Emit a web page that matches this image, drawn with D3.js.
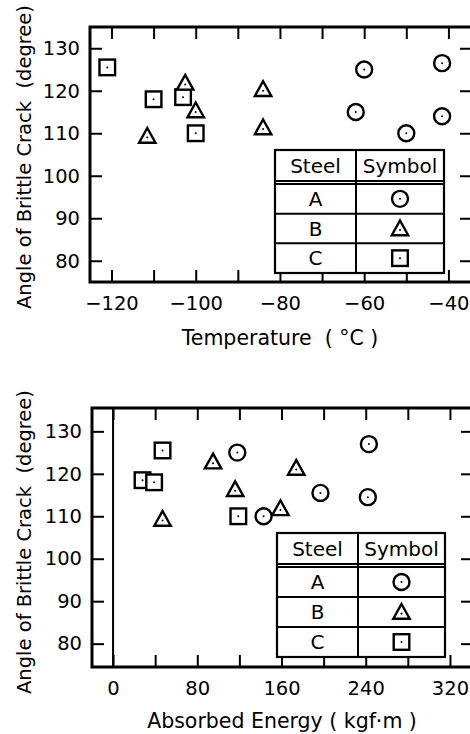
<!DOCTYPE html>
<html>
<head>
<meta charset="utf-8">
<script src="https://cdn.jsdelivr.net/npm/d3@7/dist/d3.min.js"></script>
<style>
  body { margin: 0; background: #fff; }
  text { font-family: "DejaVu Sans", sans-serif; fill: #000; }
</style>
</head>
<body>
<svg id="chart" width="470" height="734"></svg>
<script>
// ---- Angle of brittle crack vs test temperature ----
const tempA  = [-60, -62, -50, -41.5, -41.5];
const angleTA = [125, 115, 110, 126.5, 114];
const tempB  = [-111.5, -102.5, -100, -84, -84];
const angleTB = [109, 121.5, 115, 120, 111];
const tempC  = [-121, -110, -103, -100];
const angleTC = [125.5, 118, 118.5, 110];

// ---- Angle of brittle crack vs absorbed energy ----
const energyA = [118, 143, 197, 243, 242];
const angleEA = [125, 110, 115.5, 127, 114.5];
const energyB = [47, 95, 116, 159, 174];
const angleEB = [109, 122.5, 116, 111.5, 121];
const energyC = [28, 39, 47, 119];
const angleEC = [118.5, 118, 125.5, 110];

// ---- Axis ticks and labels ----
const tempTicks = [-120, -110, -100, -90, -80, -70, -60, -50, -40];
const tempLabels = { "-120": "\u2212120", "-100": "\u2212100", "-80": "\u221280", "-60": "\u221260", "-40": "\u221240" };
const energyTicks = [0, 40, 80, 120, 160, 200, 240, 280, 320];
const energyLabels = { "0": "0", "80": "80", "160": "160", "240": "240", "320": "320" };
const angleTicks = [80, 90, 100, 110, 120, 130];

// ---- Legend table ----
const steels = ["A", "B", "C"];
const steelShapes = ["circle", "triangle", "square"];
const legendHeader = ["Steel", "Symbol"];

const svg = d3.select("#chart");

function marker(g, shape, cx, cy) {
  const s = g.append("g").attr("transform", `translate(${cx},${cy})`);
  if (shape === "circle") {
    s.append("circle").attr("r", 8).attr("fill", "#fff").attr("stroke", "#000").attr("stroke-width", 2.4);
  } else if (shape === "square") {
    s.append("rect").attr("x", -7.8).attr("y", -7.8).attr("width", 15.6).attr("height", 15.6)
      .attr("fill", "#fff").attr("stroke", "#000").attr("stroke-width", 2.4);
  } else {
    s.append("path").attr("d", "M0,-9.5L8.2,5.2L-8.2,5.2Z")
      .attr("fill", "#fff").attr("stroke", "#000").attr("stroke-width", 2.4).attr("stroke-linejoin", "miter");
  }
  s.append("circle").attr("r", 1).attr("fill", "#000");
}

function panel(cfg) {
  const g = svg.append("g");
  const x = d3.scaleLinear().domain(cfg.xDomain).range([cfg.left, cfg.right]);
  const y = d3.scaleLinear().domain(cfg.yDomain).range([cfg.bottom, cfg.top]);

  const style = sel => {
    sel.select(".domain").remove();
    sel.selectAll(".tick line").attr("stroke", "#000").attr("stroke-width", 2);
    sel.selectAll(".tick text").style("font-size", "19.5px").attr("fill", "#000");
  };

  // labelled bottom and left axes, ticks pointing inward
  g.append("g").attr("transform", `translate(0,${cfg.bottom})`)
    .call(d3.axisBottom(x).tickValues(cfg.xTicks).tickSize(-12).tickPadding(14)
      .tickFormat(d => cfg.xLabels[String(d)] || ""))
    .call(style);
  g.append("g").attr("transform", `translate(${cfg.left},0)`)
    .call(d3.axisLeft(y).tickValues(angleTicks).tickSize(-12).tickPadding(10).tickFormat(d3.format("d")))
    .call(style);
  // mirrored top and right ticks
  g.append("g").attr("transform", `translate(0,${cfg.top})`)
    .call(d3.axisTop(x).tickValues(cfg.xTicks).tickSize(-12).tickFormat(""))
    .call(style);
  g.append("g").attr("transform", `translate(${cfg.right},0)`)
    .call(d3.axisRight(y).tickValues(angleTicks).tickSize(-12).tickFormat(""))
    .call(style);

  // frame
  g.append("path")
    .attr("d", `M${cfg.right},${cfg.top}H${cfg.left}V${cfg.bottom}H${cfg.right}`)
    .attr("fill", "none").attr("stroke", "#000").attr("stroke-width", 3);

  if (cfg.zeroLine) {
    g.append("line").attr("x1", x(0)).attr("x2", x(0)).attr("y1", cfg.top).attr("y2", cfg.bottom)
      .attr("stroke", "#000").attr("stroke-width", 2);
  }

  // markers: squares, then triangles, then circles
  const sets = [
    ["square", cfg.data.C],
    ["triangle", cfg.data.B],
    ["circle", cfg.data.A]
  ];
  sets.forEach(([shape, [xs, ys]]) => {
    xs.forEach((v, i) => marker(g, shape, x(v), y(ys[i])));
  });

  // legend table
  const L = cfg.legend;
  const t = g.append("g");
  const rowH = (L.bottom - L.headBottom) / 3;
  t.append("rect").attr("x", L.left).attr("y", L.top).attr("width", L.right - L.left)
    .attr("height", L.bottom - L.top).attr("fill", "#fff").attr("stroke", "#000").attr("stroke-width", 2.2);
  t.append("line").attr("x1", L.mid).attr("x2", L.mid).attr("y1", L.top).attr("y2", L.bottom)
    .attr("stroke", "#000").attr("stroke-width", 2);
  [L.headBottom - 3, L.headBottom].forEach(yy =>
    t.append("line").attr("x1", L.left).attr("x2", L.right).attr("y1", yy).attr("y2", yy)
      .attr("stroke", "#000").attr("stroke-width", 1.8));
  [1, 2].forEach(k => {
    const yy = L.headBottom + k * rowH;
    t.append("line").attr("x1", L.left).attr("x2", L.right).attr("y1", yy).attr("y2", yy)
      .attr("stroke", "#000").attr("stroke-width", 2);
  });
  const c1 = (L.left + L.mid) / 2, c2 = (L.mid + L.right) / 2;
  const hy = (L.top + L.headBottom - 3) / 2;
  [c1, c2].forEach((cx, i) =>
    t.append("text").attr("x", cx).attr("y", hy).attr("dy", "0.36em").attr("text-anchor", "middle")
      .style("font-size", "20px").text(legendHeader[i]));
  steels.forEach((s, i) => {
    const cy = L.headBottom + (i + 0.5) * rowH;
    t.append("text").attr("x", c1).attr("y", cy).attr("dy", "0.36em").attr("text-anchor", "middle")
      .style("font-size", "20px").text(s);
    marker(t, steelShapes[i], c2, cy + (steelShapes[i] === "triangle" ? 1.5 : 0));
  });

  // axis titles
  g.append("text").attr("x", cfg.xTitleX).attr("y", cfg.xTitleY).attr("text-anchor", "middle")
    .style("font-size", "20.5px").attr("xml:space", "preserve").text(cfg.xTitle);
  g.append("text").attr("transform", `translate(31,${cfg.yTitleY}) rotate(-90)`).attr("text-anchor", "middle")
    .style("font-size", "19.5px").attr("xml:space", "preserve").text("Angle of Brittle Crack  (degree)");
}

panel({
  left: 90, right: 472, top: 27, bottom: 282,
  xDomain: [-125.1, -34.4], yDomain: [75, 135],
  xTicks: tempTicks, xLabels: tempLabels,
  data: { A: [tempA, angleTA], B: [tempB, angleTB], C: [tempC, angleTC] },
  legend: { left: 275, right: 444, mid: 356, top: 150, headBottom: 184, bottom: 273 },
  xTitle: "Temperature  ( \u00B0C )", xTitleX: 280, xTitleY: 345, yTitleY: 157
});

panel({
  left: 92, right: 473, top: 408, bottom: 667,
  xDomain: [-20, 341.9], yDomain: [74.5, 135.5],
  xTicks: energyTicks, xLabels: energyLabels, zeroLine: true,
  data: { A: [energyA, angleEA], B: [energyB, angleEB], C: [energyC, angleEC] },
  legend: { left: 277, right: 445, mid: 358, top: 533, headBottom: 567, bottom: 657 },
  xTitle: "Absorbed Energy ( kgf\u00B7m )", xTitleX: 282, xTitleY: 728, yTitleY: 542
});
</script>
</body>
</html>
